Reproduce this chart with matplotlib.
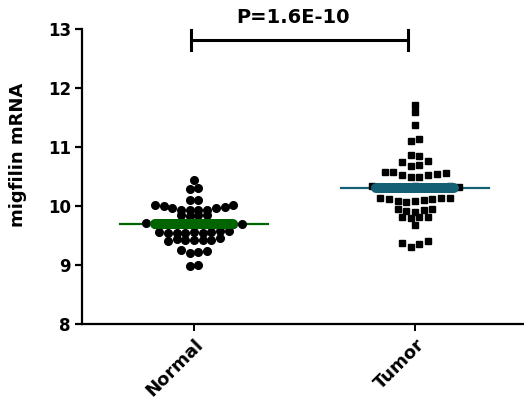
import numpy as np
import matplotlib
matplotlib.use("Agg")
import matplotlib.pyplot as plt

# values, listed row by row (left to right within a row)
categories = ["Normal", "Tumor"]
normal_vals = [10.44,
               10.29, 10.30,
               10.10, 10.11,
               10.02, 10.00, 9.97, 9.94, 9.93, 9.93, 9.94, 9.96, 9.99, 10.01,
               9.84, 9.83, 9.84, 9.85,
               9.71, 9.70, 9.70, 9.69, 9.70, 9.71, 9.70, 9.69, 9.70, 9.71, 9.70, 9.70,
               9.56, 9.55, 9.54, 9.55, 9.56, 9.55, 9.56, 9.57, 9.58,
               9.40, 9.44, 9.42, 9.42, 9.42, 9.43, 9.45,
               9.25, 9.21, 9.22, 9.24,
               8.98, 9.00]
tumor_vals = [11.71,
              11.60,
              11.37,
              11.11, 11.14,
              10.87, 10.85,
              10.74, 10.68, 10.70, 10.76,
              10.58, 10.57, 10.52, 10.50, 10.50, 10.52, 10.54, 10.56,
              10.34, 10.33, 10.32, 10.33, 10.33, 10.34, 10.33, 10.32, 10.33, 10.34, 10.33,
              10.13, 10.12, 10.09, 10.07, 10.08, 10.10, 10.12, 10.13, 10.13,
              9.95, 9.92, 9.90, 9.93, 9.95,
              9.81, 9.79, 9.81, 9.82,
              9.68,
              9.37, 9.31, 9.36, 9.40]
p_label = "P=1.6E-10"

# styling
colors = ["#006400", "#145f73"]
markers = ["o", "s"]
msizes = [5.5, 5.0]
step = 0.0394       # horizontal spacing between points in a row
line_half = 0.335   # half width of thin mean line
band_half = 0.175   # half width of thick band
FONT = "DejaVu Sans"


def column_scatter_x(center, values, step, gap=0.065):
    # group close values into rows, then spread each row around the center
    vals = np.asarray(values)
    order = np.argsort(vals, kind="stable")
    rows, cur = [], [order[0]]
    for a, b in zip(order[:-1], order[1:]):
        if vals[b] - vals[a] > gap:
            rows.append(cur)
            cur = [b]
        else:
            cur.append(b)
    rows.append(cur)
    x = np.empty(len(vals))
    for r in rows:
        r = sorted(r)
        n = len(r)
        x[r] = center + (np.arange(n) - (n - 1) / 2) * step
    return x


fig = plt.figure(figsize=(5.24, 4.08), dpi=100)
ax = fig.add_axes([82 / 524, 84 / 408, 442 / 524, 295 / 408])

for i, vals in enumerate([normal_vals, tumor_vals]):
    pos = i + 1
    xs = column_scatter_x(pos, vals, step)
    ax.plot(xs, vals, linestyle="none", marker=markers[i], color="black",
            markersize=msizes[i], zorder=3)
    m = np.mean(vals)
    ax.plot([pos - line_half, pos + line_half], [m, m], color=colors[i],
            lw=1.6, zorder=2)
    ax.plot([pos - band_half, pos + band_half], [m, m], color=colors[i],
            lw=7.2, solid_capstyle="round", zorder=4)

# significance bracket
yb = 12.81
ax.plot([0.985, 1.97], [yb, yb], color="black", lw=2.2, clip_on=False)
ax.plot([0.985, 0.985], [yb - 0.17, yb + 0.17], color="black", lw=2.2, clip_on=False)
ax.plot([1.97, 1.97], [yb - 0.17, yb + 0.17], color="black", lw=2.2, clip_on=False)
ax.text(1.448, 13.19, p_label, ha="center", va="center", fontsize=14,
        fontweight="bold", family=FONT, clip_on=False)

ax.set_xlim(0.493, 2.493)
ax.set_ylim(8, 13)
ax.set_yticks([8, 9, 10, 11, 12, 13])
ax.set_xticks([1, 2])
ax.set_xticklabels(categories, rotation=45, ha="right", va="top",
                   rotation_mode="anchor", fontsize=13, fontweight="bold",
                   family=FONT)
for lab in ax.get_yticklabels():
    lab.set_fontsize(12)
    lab.set_fontweight("bold")
    lab.set_family(FONT)

ax.spines["top"].set_visible(False)
ax.spines["right"].set_visible(False)
ax.spines["left"].set_linewidth(1.6)
ax.spines["bottom"].set_linewidth(1.6)
ax.tick_params(axis="y", direction="out", length=5, width=1.6, pad=3)
ax.tick_params(axis="x", direction="out", length=5, width=1.4, pad=3)

ax.set_ylabel("migfilin mRNA", fontsize=13, fontweight="bold", family=FONT)
ax.yaxis.set_label_coords(-0.125, 0.573)

fig.savefig("out.png", dpi=100)
